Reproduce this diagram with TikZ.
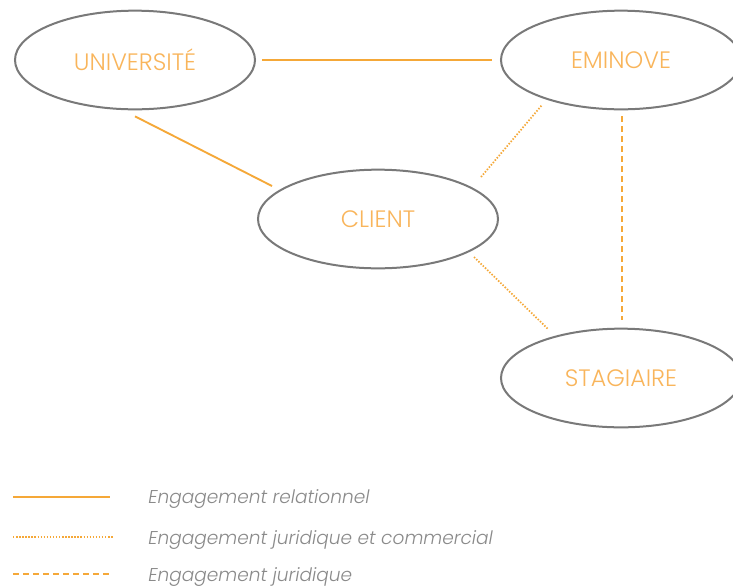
\documentclass[tikz,border=0pt]{standalone}
\usetikzlibrary{shapes.geometric}
\usepackage{fontspec}
\setmainfont{Poppins}[UprightFont={* Light}, ItalicFont={* Light Italic}]
\begin{document}
\begin{tikzpicture}[x=0.75pt,y=-0.75pt,
  ell/.style={ellipse, draw=gray!95!black, line width=1.5pt, minimum width=180pt, minimum height=74pt, inner sep=0pt, text=labelorange, font=\fontsize{17.8}{20}\selectfont},
  rel/.style={draw=lineorange, line width=1.4pt},
  jurcom/.style={draw=lineorange, line width=1.3pt, dash pattern=on 1.1pt off 1.2pt},
  jur/.style={draw=lineorange, line width=1.4pt, dash pattern=on 4.5pt off 3pt},
  legtext/.style={anchor=base west, inner sep=0pt, text=legendgray, font=\fontsize{13.9}{16}\selectfont\itshape}]
\definecolor{labelorange}{HTML}{F9B55B}
\definecolor{lineorange}{HTML}{F5A838}
\definecolor{legendgray}{HTML}{8A8A8A}
\useasboundingbox (0,0) rectangle (733,587);
\fill[white] (0,0) rectangle (733,587);
\node[ell] (univ) at (135,60) {UNIVERSITÉ};
\node[ell] (emin) at (621,60) {EMINOVE};
\node[ell] (client) at (378,219) {CLIENT};
\node[ell] (stag) at (621,378) {STAGIAIRE};
% connector end points
\coordinate (ue1) at ([xshift=4.5pt]univ.east);
\coordinate (ue2) at ([xshift=-6pt]emin.west);
\coordinate (uc1) at ([yshift=-4.5pt]univ.south);
\coordinate (uc2) at (272,186);
\coordinate (ce1) at (481,177);
\coordinate (ce2) at (542,105);
\coordinate (cs1) at (474,257);
\coordinate (cs2) at (548,329);
\coordinate (es1) at (622,116);
\coordinate (es2) at (622,320);
\draw[rel] (ue1) -- (ue2);
\draw[rel] (uc1) -- (uc2);
\draw[jurcom] (ce1) -- (ce2);
\draw[jurcom] (cs1) -- (cs2);
\draw[jur] (es1) -- (es2);
% legend
\coordinate (l1a) at (13,497); \coordinate (l1b) at (110,497);
\coordinate (l2a) at (13,537); \coordinate (l2b) at (113,537);
\coordinate (l3a) at (13,574); \coordinate (l3b) at (110,574);
\draw[rel] (l1a) -- (l1b);
\draw[jurcom] (l2a) -- (l2b);
\draw[jur] (l3a) -- (l3b);
\node[legtext] (t1) at (148,503) {Engagement relationnel};
\node[legtext] (t2) at (148,544) {Engagement juridique et commercial};
\node[legtext] (t3) at (148,581) {Engagement juridique};
\end{tikzpicture}
\end{document}
